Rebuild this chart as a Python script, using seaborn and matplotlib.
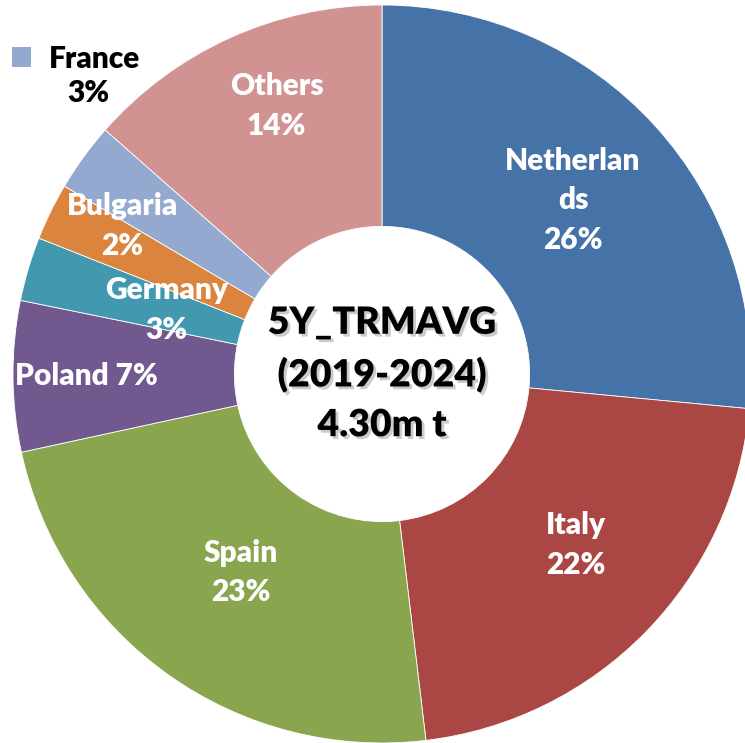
import numpy as np
import matplotlib
matplotlib.use("Agg")
import matplotlib.pyplot as plt
import matplotlib.patheffects as pe
import seaborn as sns

## data (shares in %, clockwise from 12 o'clock)
countries = ["Netherlands", "Italy", "Spain", "Poland", "Germany", "Bulgaria", "France", "Others"]
shares = [26.5, 21.6, 23.5, 6.6, 2.8, 2.5, 3.0, 13.5]
pct_labels = ["26%", "22%", "23%", "7%", "3%", "2%", "3%", "14%"]
label_texts = ["Netherlan\nds\n26%", "Italy\n22%", "Spain\n23%", "Poland 7%",
               "Germany\n3%", "Bulgaria\n2%", None, "Others\n14%"]
center_text = "5Y_TRMAVG\n(2019-2024)\n4.30m t"

colors = ["#4572A7", "#AA4643", "#89A54E", "#71588F",
          "#4198AF", "#DB843D", "#93A9CF", "#D19392"]

# data-label placement: fraction of radius and angular nudge from the wedge middle
label_radius = [0.70, 0.70, 0.66, 0.80, 0.61, 0.81, 0.0, 0.78]
label_shift = [0.0, 2.8, 0.0, 0.0, 0.0, -3.6, 0.0, -2.8]

sns.set_theme(style="white")
plt.rcParams["font.family"] = ["Lato", "DejaVu Sans"]
plt.rcParams["font.weight"] = "heavy"

W, H = 745, 743
R = 369.0
cx, cy = 382.0, 374.0

fig = plt.figure(figsize=(W / 100, H / 100), dpi=100)
ax = fig.add_axes([0, 0, 1, 1])

palette = sns.color_palette(colors)
wedges, _ = ax.pie(
    shares,
    colors=palette,
    startangle=90,
    counterclock=False,
    radius=1.0,
    wedgeprops=dict(width=0.6, edgecolor="white", linewidth=0.6),
)

ax.set_xlim(-cx / R, (W - cx) / R)
ax.set_ylim(-(H - cy) / R, cy / R)
ax.set_aspect("auto")
ax.axis("off")

for w, txt, rr, sh in zip(wedges, label_texts, label_radius, label_shift):
    if txt is None:
        continue
    mid = np.deg2rad((w.theta1 + w.theta2) / 2 + sh)
    ax.text(rr * np.cos(mid), rr * np.sin(mid), txt, ha="center", va="center",
            color="white", fontsize=21.5, fontweight="heavy", linespacing=1.5)

# centre text with a soft shadow
ax.text(0, 0.0, center_text, ha="center", va="center", color="black",
        fontsize=27, fontweight="heavy", linespacing=1.55,
        path_effects=[pe.withSimplePatchShadow(offset=(2, -2), shadow_rgbFace="#999999", alpha=0.5)])

# France sits outside, with its own legend key
leg = ax.legend([wedges[6]], [countries[6]], loc="upper left", bbox_to_anchor=(-0.012, 0.968),
                frameon=False, handlelength=0.65, handleheight=0.65, handletextpad=0.6,
                borderaxespad=0.3, labelcolor="black", prop=dict(size=21.5, weight="heavy"))
for h in leg.legend_handles:
    h.set_edgecolor("none")
ax.text(88 / W, 1 - 93 / H, pct_labels[6], transform=ax.transAxes, ha="center", va="center",
        color="black", fontsize=21.5, fontweight="heavy")

fig.savefig("out.png", dpi=100)
